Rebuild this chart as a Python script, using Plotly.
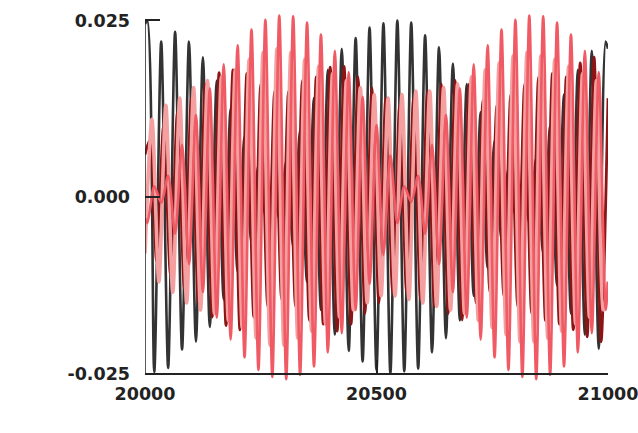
import plotly.graph_objects as go

# ---- data ----
x_black_red = [20000, 20005, 20020, 20035, 20050, 20065, 20080, 20095, 20110, 20125, 20140,
               20155, 20170, 20185, 20200, 20215, 20230, 20245, 20260, 20275, 20290,
               20305, 20320, 20335, 20350, 20365, 20380, 20395, 20410, 20425, 20440,
               20455, 20470, 20485, 20500, 20515, 20530, 20545, 20560, 20575, 20590,
               20605, 20620, 20635, 20650, 20665, 20680, 20695, 20710, 20725, 20740,
               20755, 20770, 20785, 20800, 20815, 20830, 20845, 20860, 20875, 20890,
               20905, 20920, 20935, 20950, 20965, 20980, 20995, 21000]

y_black = [0.0245, 0.0250, -0.0248, 0.0220, -0.0242, 0.0234, -0.0216, 0.0220, -0.0205, 0.0198, -0.0184,
           0.0165, -0.0145, 0.0125, -0.0105, 0.0085, -0.0065, 0.0045, -0.0025, 0.0015, -0.0030,
           0.0050, -0.0070, 0.0095, -0.0120, 0.0140, -0.0160, 0.0180, -0.0195, 0.0210, -0.0218,
           0.0225, -0.0233, 0.0240, -0.0245, 0.0246, -0.0250, 0.0250, -0.0247, 0.0247, -0.0243,
           0.0229, -0.0220, 0.0212, -0.0200, 0.0189, -0.0175, 0.0160, -0.0140, 0.0120, -0.0100,
           0.0080, -0.0060, 0.0040, -0.0025, 0.0020, -0.0035, 0.0055, -0.0080, 0.0100, -0.0125,
           0.0145, -0.0165, 0.0180, -0.0195, 0.0207, -0.0215, 0.0220, 0.0210]

y_red = [-0.0030, -0.0037, 0.0015, -0.0008, 0.0030, -0.0052, 0.0074, -0.0095, 0.0116, -0.0135, 0.0154,
         -0.0171, 0.0188, -0.0202, 0.0215, -0.0227, 0.0237, -0.0245, 0.0251, -0.0255, 0.0257,
         -0.0258, 0.0256, -0.0252, 0.0247, -0.0240, 0.0230, -0.0220, 0.0207, -0.0193, 0.0177,
         -0.0160, 0.0142, -0.0123, 0.0102, -0.0082, 0.0059, -0.0037, 0.0015, -0.0007, 0.0030,
         -0.0052, 0.0074, -0.0095, 0.0116, -0.0135, 0.0154, -0.0171, 0.0188, -0.0202, 0.0215,
         -0.0227, 0.0237, -0.0245, 0.0251, -0.0255, 0.0257, -0.0258, 0.0256, -0.0252, 0.0247,
         -0.0240, 0.0230, -0.0220, 0.0207, -0.0193, 0.0177, -0.0160, -0.0120]

x_darkred = [20000, 20010, 20025, 20040, 20055, 20070, 20085, 20100, 20115, 20130, 20145,
             20160, 20175, 20190, 20205, 20220, 20235, 20250, 20265, 20280, 20295,
             20310, 20325, 20340, 20355, 20370, 20385, 20400, 20415, 20430, 20445,
             20460, 20475, 20490, 20505, 20520, 20535, 20550, 20565, 20580, 20595,
             20610, 20625, 20640, 20655, 20670, 20685, 20700, 20715, 20730, 20745,
             20760, 20775, 20790, 20805, 20820, 20835, 20850, 20865, 20880, 20895,
             20910, 20925, 20940, 20955, 20970, 20985, 21000]

y_darkred = [0.0060, 0.0080, -0.0090, 0.0100, -0.0110, 0.0120, -0.0130, 0.0140, -0.0150, 0.0160, -0.0170,
             0.0176, -0.0182, 0.0180, -0.0188, 0.0175, -0.0170, 0.0160, -0.0155, 0.0150, -0.0145,
             0.0150, -0.0155, 0.0165, -0.0175, 0.0170, -0.0180, 0.0184, -0.0190, 0.0185, -0.0180,
             0.0170, -0.0165, 0.0155, -0.0150, 0.0140, -0.0135, 0.0130, -0.0135, 0.0140, -0.0145,
             0.0150, -0.0155, 0.0160, -0.0165, 0.0165, -0.0174, 0.0160, -0.0150, 0.0137, -0.0135,
             0.0130, -0.0140, 0.0145, -0.0155, 0.0160, -0.0165, 0.0170, -0.0175, 0.0175, -0.0180,
             0.0170, -0.0188, 0.0190, -0.0198, 0.0198, -0.0205, 0.0140]

x_pink = [20000, 20015, 20030, 20045, 20060, 20075, 20090, 20105, 20120, 20135, 20150,
          20165, 20180, 20195, 20210, 20225, 20240, 20255, 20270, 20285, 20300,
          20315, 20330, 20345, 20360, 20375, 20390, 20405, 20420, 20435, 20450,
          20465, 20480, 20495, 20510, 20525, 20540, 20555, 20570, 20585, 20600,
          20615, 20630, 20645, 20660, 20675, 20690, 20705, 20720, 20735, 20750,
          20765, 20780, 20795, 20810, 20825, 20840, 20855, 20870, 20885, 20900,
          20915, 20930, 20945, 20960, 20975, 20990, 21000]

y_pink = [-0.0080, 0.0110, -0.0120, 0.0130, -0.0135, 0.0140, -0.0150, 0.0155, -0.0160, 0.0165, -0.0165,
          0.0170, -0.0175, 0.0180, -0.0185, 0.0195, -0.0200, 0.0205, -0.0210, 0.0210, -0.0210,
          0.0205, -0.0200, 0.0195, -0.0190, 0.0185, -0.0180, 0.0175, -0.0170, 0.0165, -0.0160,
          0.0155, -0.0150, 0.0145, -0.0140, 0.0140, -0.0140, 0.0145, -0.0145, 0.0150, -0.0150,
          0.0150, -0.0155, 0.0155, -0.0160, 0.0160, -0.0165, 0.0170, -0.0175, 0.0180, -0.0185,
          0.0190, -0.0195, 0.0200, -0.0205, 0.0205, -0.0205, 0.0200, -0.0200, 0.0195, -0.0190,
          0.0185, -0.0180, 0.0175, -0.0170, 0.0165, -0.0160, -0.0120]

x_ticks = [20000, 20500, 21000]
x_tick_labels = ["20000", "20500", "21000"]
y_ticks = [-0.025, 0.0, 0.025]
y_tick_labels = ["-0.025", "0.000", "0.025"]

# ---- figure ----
fig = go.Figure()
series = [
    (x_black_red, y_black, "#333333", 2.6),
    (x_darkred, y_darkred, "#8c1414", 2.8),
    (x_pink, y_pink, "#f4a0a0", 3.6),
    (x_black_red, y_red, "#ef5a64", 2.6),
]
for xs, ys, col, w in series:
    fig.add_trace(go.Scatter(x=xs, y=ys, mode="lines",
                             line=dict(color=col, width=w, shape="spline", smoothing=0.8),
                             showlegend=False, hoverinfo="skip"))

ymin, ymax = -0.0262, 0.0262
tickfont = dict(family="DejaVu Sans", size=17.5, color="#222222", weight="bold")

fig.update_layout(
    width=638, height=433,
    margin=dict(l=145, r=30, t=12, b=51, autoexpand=False),
    paper_bgcolor="white", plot_bgcolor="white",
    xaxis=dict(range=[x_ticks[0], x_ticks[-1]], anchor="free",
               position=(y_ticks[0] - ymin) / (ymax - ymin), automargin=False,
               showline=True, linecolor="#222222", linewidth=1.5,
               ticks="inside", ticklen=13, tickwidth=1.5, tickcolor="#222222",
               tickvals=x_ticks, ticktext=x_tick_labels, tickfont=tickfont,
               ticklabelstandoff=5, ticklabeloverflow="allow",
               showgrid=False, zeroline=False),
    yaxis=dict(range=[ymin, ymax], showline=False, automargin=False,
               ticks="inside", ticklen=15, tickwidth=1.5, tickcolor="#222222",
               tickvals=y_ticks, ticktext=y_tick_labels, tickfont=tickfont,
               ticklabelstandoff=14, ticklabeloverflow="allow",
               showgrid=False, zeroline=False),
    shapes=[dict(type="line", xref="x", yref="y", x0=x_ticks[0], x1=x_ticks[0],
                 y0=y_ticks[0], y1=y_ticks[-1], line=dict(color="#222222", width=1.5),
                 layer="above")],
)

fig.write_html("out.html", config={"displayModeBar": False},
               post_script="document.body.style.margin='0px';document.body.style.overflow='hidden';")
